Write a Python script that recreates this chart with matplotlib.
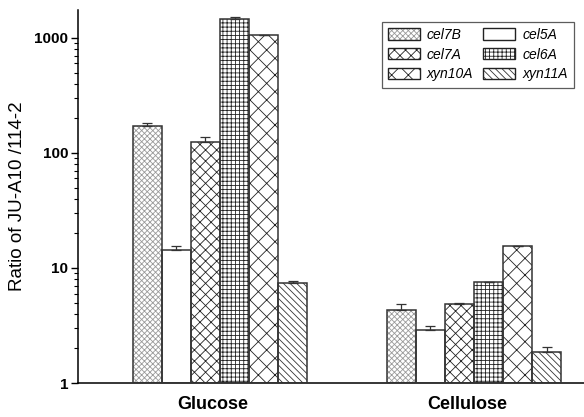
import matplotlib
matplotlib.use("Agg")
import matplotlib.pyplot as plt
import numpy as np
from matplotlib.ticker import LogLocator, NullFormatter, FixedLocator, FuncFormatter

# --- data ---------------------------------------------------------------
groups = ["Glucose", "Cellulose"]
genes = ["cel7B", "cel5A", "cel7A", "cel6A", "xyn10A", "xyn11A"]
glucose = [172, 14.3, 125, 1460, 1060, 7.4]
glucose_err = [10, 1.2, 13, 60, 8, 0.3]
cellulose = [4.3, 2.89, 4.86, 7.55, 15.5, 1.86]
cellulose_err = [0.6, 0.24, 0.14, 0.05, 0.05, 0.19]

# hatch style per gene: (hatch, hatch colour)
styles = [("xxxxxx", "#9a9a9a"), ("", "#000000"), ("xxx", "#222222"),
          ("++++", "#222222"), ("xx", "#222222"), ("\\\\\\\\\\", "#333333")]

plt.rcParams.update({
    "font.family": ["Liberation Sans", "DejaVu Sans"],
    "hatch.linewidth": 0.6,
})

fig = plt.figure(figsize=(5.84, 4.17), dpi=100)
ax = fig.add_axes([0.1336, 0.0815, 0.8664, 0.8945])

w = 0.1146
x = np.arange(len(groups))
vals = np.array([glucose, cellulose])
errs = np.array([glucose_err, cellulose_err])

handles = {}
for i, g in enumerate(genes):
    pos = x + (i - 2.5) * w
    hatch, hc = styles[i]
    ax.bar(pos, vals[:, i] - 1, w, bottom=1, color="white", edgecolor=hc,
           hatch=hatch, linewidth=0, zorder=2)
    ax.bar(pos, vals[:, i] - 1, w, bottom=1, color="none",
           edgecolor="#333333", linewidth=1.1, zorder=3)
    ax.errorbar(pos, vals[:, i], yerr=[np.zeros(2), errs[:, i]], fmt="none",
                ecolor="#333333", elinewidth=0.9, capsize=3.5, capthick=0.9,
                zorder=4)
    # legend proxy: hatch in its own colour plus a dark border
    fill = plt.Rectangle((0, 0), 1, 1, facecolor="white", edgecolor=hc,
                         hatch=hatch, linewidth=0)
    edge = plt.Rectangle((0, 0), 1, 1, facecolor="none", edgecolor="#222222",
                         linewidth=1.0)
    handles[g] = (fill, edge)

ax.set_yscale("log")
ax.set_ylim(1, 1750)
ax.set_xlim(-0.559, 1.433)
ax.yaxis.set_major_locator(FixedLocator([1, 10, 100, 1000]))
ax.yaxis.set_major_formatter(FuncFormatter(lambda v, p: f"{v:g}"))
ax.yaxis.set_minor_locator(LogLocator(base=10, subs=np.arange(2, 10)))
ax.yaxis.set_minor_formatter(NullFormatter())
ax.tick_params(axis="y", which="major", length=5, width=1, labelsize=11,
               direction="out", pad=2)
ax.tick_params(axis="y", which="minor", length=3, width=0.8, direction="out")
for lbl in ax.get_yticklabels():
    lbl.set_fontweight("bold")

ax.set_xticks(x - 0.028)
ax.set_xticklabels(groups, fontsize=13, fontweight="bold")
ax.tick_params(axis="x", length=0, pad=9)

ax.spines[["top", "right"]].set_visible(False)
ax.spines["left"].set_linewidth(1.1)
ax.spines["bottom"].set_linewidth(1.1)
ax.set_ylabel("Ratio of JU-A10 /114-2", fontsize=13.5, labelpad=6)

# row-wise order in a 2-column legend
order = ["cel7B", "cel7A", "xyn10A", "cel5A", "cel6A", "xyn11A"]
leg = ax.legend([handles[g] for g in order], order, ncol=2,
                loc="upper right", bbox_to_anchor=(0.98, 0.969),
                prop={"style": "italic", "size": 10},
                frameon=True, fancybox=False, edgecolor="#333333",
                handlelength=2.3, handleheight=0.85, columnspacing=0.7,
                handletextpad=0.5, labelspacing=0.42, borderpad=0.45,
                borderaxespad=0)
leg.get_frame().set_linewidth(0.9)

fig.savefig("out.png", dpi=100)
